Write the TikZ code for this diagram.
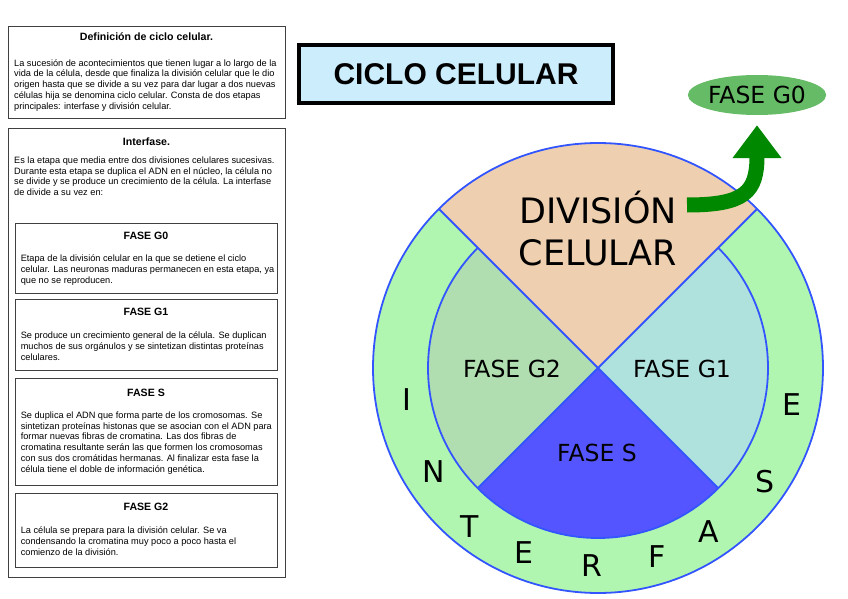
\documentclass[tikz,border=0pt]{standalone}
\usepackage{fontspec}
\setmainfont{Liberation Sans}
\newfontfamily\circfont{DejaVu Sans}
\usepackage{xcolor}
\definecolor{ringgreen}{RGB}{176,246,176}
\definecolor{divpeach}{RGB}{238,208,176}
\definecolor{gtwo}{RGB}{176,222,176}
\definecolor{gone}{RGB}{176,226,221}
\definecolor{sblue}{RGB}{85,85,255}
\definecolor{edgeblue}{RGB}{51,85,255}
\definecolor{gzero}{RGB}{102,187,102}
\definecolor{arrowgreen}{RGB}{0,136,0}
\definecolor{titlecyan}{RGB}{204,238,252}
\usetikzlibrary{shapes.geometric,arrows.meta,positioning,calc}

\begin{document}
\begin{tikzpicture}[
  x=1pt, y=-1pt,
  panel/.style={draw=black!75, line width=0.9pt},
  ptitle/.style={font=\fontsize{10.6}{12}\selectfont\bfseries, inner sep=0pt, anchor=base},
  pbody/.style={font=\fontsize{9.2}{10.7}\selectfont, align=left, inner sep=0pt, anchor=north west},
  wedge/.style={draw=edgeblue, line width=1.8pt},
  phase/.style={font=\circfont\fontsize{23.5}{28}\selectfont, inner sep=0pt},
  ringletter/.style={font=\circfont\fontsize{30}{30}\selectfont, inner sep=0pt},
  titlebox/.style={draw=black, line width=3.5pt, fill=titlecyan, minimum width=314pt, minimum height=58pt, font=\fontsize{30}{30}\selectfont\bfseries, inner sep=0pt},
  gzeronode/.style={ellipse, fill=gzero, minimum width=134pt, minimum height=40pt, inner sep=0pt, font=\circfont\fontsize{23.5}{28}\selectfont},
  toGzero/.style={arrowgreen, line width=15pt, -{Triangle[length=33pt, width=47pt]}}
]
\useasboundingbox (0,0) rectangle (848,599);

% left column: text panels
\draw[panel] (8,26) rectangle (285,118);
\node[ptitle] (defTitle) at (146.5,40.5) {Definición de ciclo celular.};
\node[pbody] (defText) at (14,59.3) {La sucesión de acontecimientos que tienen lugar a lo largo de la\\vida de la célula, desde que finaliza la división celular que le dio\\origen hasta que se divide a su vez para dar lugar a dos nuevas\\células hija se denomina ciclo celular. Consta de dos etapas\\principales: interfase y división celular.};

\draw[panel] (8,128) rectangle (285,577);
\node[ptitle] (intTitle) at (146.5,145) {Interfase.};
\node[pbody] (intText) at (14,156.7) {Es la etapa que media entre dos divisiones celulares sucesivas.\\Durante esta etapa se duplica el ADN en el núcleo, la célula no\\se divide y se produce un crecimiento de la célula. La interfase\\de divide a su vez en:};

\draw[panel] (15,223) rectangle (277,293);
\node[ptitle] (gzTitle) at (146,239) {FASE G0};
\node[pbody] (gzText) at (20.6,255) {Etapa de la división celular en la que se detiene el ciclo\\celular. Las neuronas maduras permanecen en esta etapa, ya\\que no se reproducen.};

\draw[panel] (15,299) rectangle (277,370);
\node[ptitle] (goTitle) at (146,315) {FASE G1};
\node[pbody] (goText) at (20.6,332) {Se produce un crecimiento general de la célula. Se duplican\\muchos de sus orgánulos y se sintetizan distintas proteínas\\celulares.};

\draw[panel] (15,378) rectangle (277,485);
\node[ptitle] (sTitle) at (146,396) {FASE S};
\node[pbody] (sText) at (20.6,411.7) {Se duplica el ADN que forma parte de los cromosomas. Se\\sintetizan proteínas histonas que se asocian con el ADN para\\formar nuevas fibras de cromatina. Las dos fibras de\\cromatina resultante serán las que formen los cromosomas\\con sus dos cromátidas hermanas. Al finalizar esta fase la\\célula tiene el doble de información genética.};

\draw[panel] (15,493) rectangle (277,567);
\node[ptitle] (gtTitle) at (146,510) {FASE G2};
\node[pbody] (gtText) at (20.6,526.7) {La célula se prepara para la división celular. Se va\\condensando la cromatina muy poco a poco hasta el\\comienzo de la división.};

% title
\node[titlebox] (title) at (456,74) {CICLO CELULAR};

% the cycle
\begin{scope}[shift={(598,368)}]
  \fill[ringgreen] (0,0) circle (225);
  \fill[divpeach] (0,0) -- (225:225) arc[start angle=225, end angle=315, radius=225] -- cycle;
  \fill[gtwo] (0,0) -- (135:170) arc[start angle=135, end angle=225, radius=170] -- cycle;
  \fill[gone] (0,0) -- (-45:170) arc[start angle=-45, end angle=45, radius=170] -- cycle;
  \fill[sblue] (0,0) -- (45:170) arc[start angle=45, end angle=135, radius=170] -- cycle;
  \draw[wedge] (0,0) circle (225);
  \draw[wedge] (-45:170) arc[start angle=-45, end angle=225, radius=170];
  \draw[wedge] (225:225) -- (0,0) -- (315:225);
  \draw[wedge] (45:170) -- (0,0) -- (135:170);
\end{scope}

\node[font=\circfont\fontsize{35}{42}\selectfont, align=center, inner sep=0pt] (div) at (598,229) {DIVISIÓN\\CELULAR};
\node[phase] (gTwo) at (512,369) {FASE G2};
\node[phase] (gOne) at (682,369) {FASE G1};
\node[phase] (sPhase) at (597,453) {FASE S};

\foreach \ch/\px/\py [count=\i] in {I/407/400, N/434/472, T/470/527, E/524/553, R/592/566, F/657/557, A/709/532, S/765/482, E/792/405}
  \node[ringletter] (ring\i) at (\px,\py) {\ch};

% exit to G0
\node[gzeronode] (gZero) at (757,95) {FASE G0};
\coordinate (arrStart) at (687,205);
\draw[toGzero] (arrStart) .. controls (745,205) and (757,192) .. ($(gZero.south)+(0,10)$);
\end{tikzpicture}
\end{document}
